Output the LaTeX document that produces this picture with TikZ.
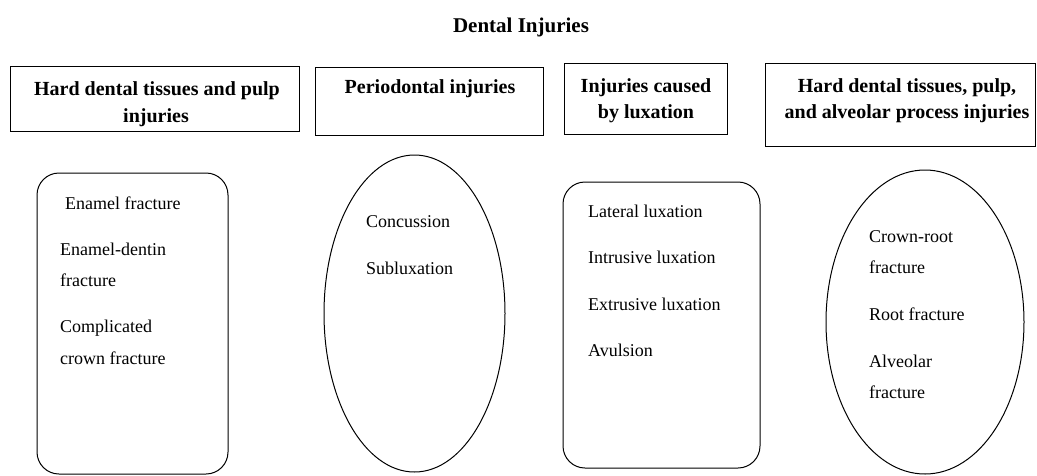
\documentclass[tikz,border=0pt]{standalone}
\usepackage{fontspec}
\setmainfont{Liberation Serif}
\usetikzlibrary{shapes.geometric}
\begin{document}
\begin{tikzpicture}[x=1pt,y=-1pt,
  hdrbox/.style={draw, line width=1pt, inner sep=0pt},
  hdrtext/.style={font=\bfseries\fontsize{20}{24}\selectfont, anchor=base, inner sep=0pt},
  titletext/.style={font=\bfseries\fontsize{21}{25}\selectfont, anchor=base, inner sep=0pt},
  itemtext/.style={font=\fontsize{18}{22}\selectfont, anchor=base west, inner sep=0pt},
  roundgroup/.style={draw, line width=1pt, rounded corners=22pt, inner sep=0pt},
  ovalgroup/.style={draw, line width=1pt, ellipse, inner sep=0pt}]
\useasboundingbox (0,0) rectangle (1037,475);

% title
\node[titletext] (title) at (521,32) {Dental Injuries};

% header boxes
\node[hdrbox, minimum width=289pt, minimum height=65pt] (h1) at (154.5,98.5) {};
\node[hdrbox, minimum width=228pt, minimum height=68pt] (h2) at (429,101) {};
\node[hdrbox, minimum width=163pt, minimum height=71pt] (h3) at (645.5,98.5) {};
\node[hdrbox, minimum width=270pt, minimum height=83pt] (h4) at (900,104.5) {};

\node[hdrtext] (h1a) at (157,95) {Hard dental tissues and pulp};
\node[hdrtext] (h1b) at (156,122) {injuries};
\node[hdrtext] (h2a) at (430,93) {Periodontal injuries};
\node[hdrtext] (h3a) at (646,92) {Injuries caused};
\node[hdrtext] (h3b) at (646,118) {by luxation};
\node[hdrtext] (h4a) at (907,92) {Hard dental tissues, pulp,};
\node[hdrtext] (h4b) at (907,118) {and alveolar process injuries};

% groups
\node[roundgroup, minimum width=191pt, minimum height=301pt] (g1) at (132.5,323.5) {};
\node[ovalgroup, minimum width=181pt, minimum height=317pt] (g2) at (414.5,313.5) {};
\node[roundgroup, minimum width=197pt, minimum height=286pt] (g3) at (661.5,325) {};
\node[ovalgroup, minimum width=198pt, minimum height=304pt] (g4) at (925,322) {};

% items group 1
\node[itemtext] (i1a) at (65,209) {Enamel fracture};
\node[itemtext] (i1b) at (60,255) {Enamel-dentin};
\node[itemtext] (i1c) at (60,286) {fracture};
\node[itemtext] (i1d) at (60,332) {Complicated};
\node[itemtext] (i1e) at (60,364) {crown fracture};

% items group 2
\node[itemtext] (i2a) at (366,227) {Concussion};
\node[itemtext] (i2b) at (366,274) {Subluxation};

% items group 3
\node[itemtext] (i3a) at (588,217) {Lateral luxation};
\node[itemtext] (i3b) at (588,263) {Intrusive luxation};
\node[itemtext] (i3c) at (588,310) {Extrusive luxation};
\node[itemtext] (i3d) at (588,356) {Avulsion};

% items group 4
\node[itemtext] (i4a) at (869,242) {Crown-root};
\node[itemtext] (i4b) at (869,273) {fracture};
\node[itemtext] (i4c) at (869,320) {Root fracture};
\node[itemtext] (i4d) at (869,367) {Alveolar};
\node[itemtext] (i4e) at (869,398) {fracture};
\end{tikzpicture}
\end{document}
